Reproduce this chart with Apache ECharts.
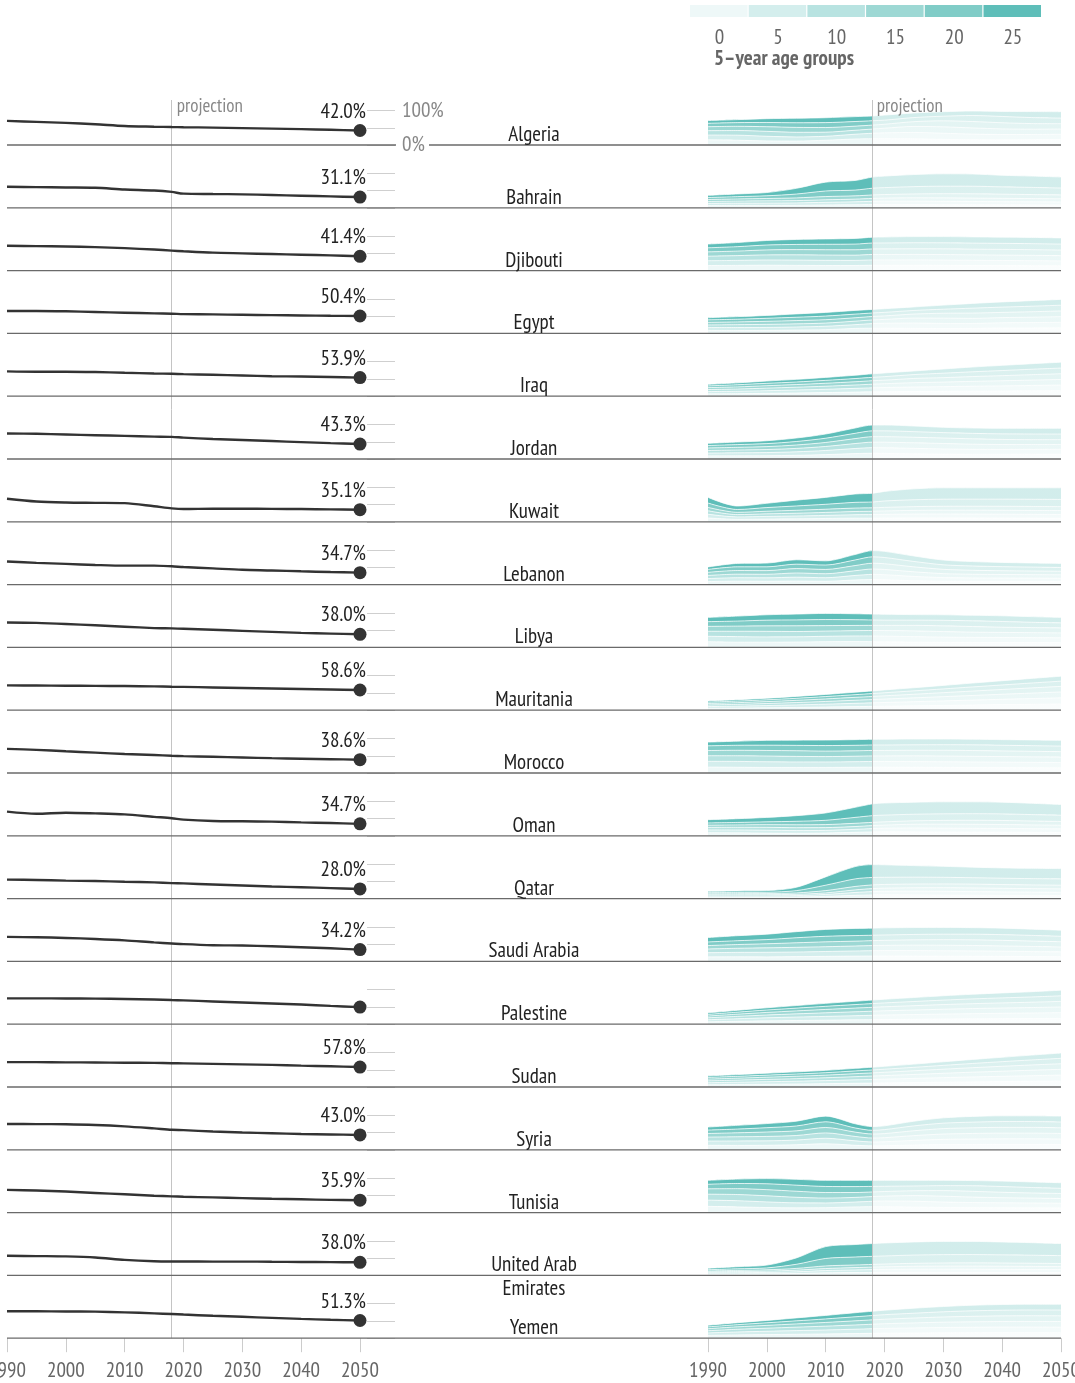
<!DOCTYPE html>
<html><head><meta charset="utf-8">
<script src="https://cdn.jsdelivr.net/npm/echarts@6/dist/echarts.min.js"></script>
<style>html,body{margin:0;padding:0;background:#fff}#c{width:1075px;height:1383px}</style>
</head><body><div id="c"></div>
<script>
// ---------- DATA ----------
const years = [1990,1995,2000,2005,2010,2015,2018,2020,2025,2030,2035,2040,2045,2050];
const countries = ['Algeria','Bahrain','Djibouti','Egypt','Iraq','Jordan','Kuwait','Lebanon','Libya','Mauritania','Morocco','Oman','Qatar','Saudi Arabia','Palestine','Sudan','Syria','Tunisia','United Arab\nEmirates','Yemen'];
const endLabels = ['42.0%','31.1%','41.4%','50.4%','53.9%','43.3%','35.1%','34.7%','38.0%','58.6%','38.6%','34.7%','28.0%','34.2%','','57.8%','43.0%','35.9%','38.0%','51.3%'];
const ageGroups = ['0','5','10','15','20','25'];
const projectionYear = 2018;

// share of population under 30 (%), per year in `years`
const shareAlgeria    = [70,67,64,60,55,53,52,51.5,50.5,49,47.5,46,44,42.0];
const shareBahrain    = [61,60,59,58,53,50,46,41,40,39,37,35,33,31.1];
const shareDjibouti   = [72,71,70,68,65,61,58,56,52,50,48,46,44,41.4];
const shareEgypt      = [65,65,64,62,60,58,57,56,55,54,53,52,51,50.4];
const shareIraq       = [72,71,71,70,68,66,65,64,62,60,58,57,55.5,53.9];
const shareJordan     = [74,73,71,69,67,65,64,62,58,55,52,49,46,43.3];
const shareKuwait     = [67,59,56,55,54,45,39,37,38,38,37.5,37,36,35.1];
const shareLebanon    = [67,63,60,57,55,55,53,51,47,43,41,38.5,36.5,34.7];
const shareLibya      = [72,71,68,64,60,56,55,54,51,48,45,42,40,38.0];
const shareMauritania = [72,71.5,71,70.5,70,69,68,67.5,66,64.5,63,61.5,60,58.6];
const shareMorocco    = [70,67,63,59,55,52,50,49,47,45,43,41.5,40,38.6];
const shareOman       = [70,64,67,65,62,55,51,47,43,42,41,39,37,34.7];
const shareQatar      = [55,54,52,51,49,47,45,44,41,38,35,33,30.5,28.0];
const shareSaudi      = [71,70,68,65,61,55,52,50,47,46,44,41,38,34.2];
const sharePalestine  = [75,75,74.5,74,73,71.5,70,69,66,63,60,57,53,49.5];
const shareSudan      = [72,72,71.5,71,70.5,70,69,68.5,67,65.5,64,62,60,57.8];
const shareSyria      = [75,74.5,74,72,68,62,58,57,53,50,48,46,44.5,43.0];
const shareTunisia    = [66,64,61,57,53,49,47,46,44,42,40,38.5,37,35.9];
const shareUAE        = [57,56,55,52,45,41,40.5,40.5,40,40,39.5,39,38.5,38.0];
const shareYemen      = [78,78,77.5,77,75,72,70,68.5,65,62,59,56,53.5,51.3];

// population by 5-year age group (thousands): one row per year, columns 0-4 ... 25-29
const agesAlgeria = [[3800,3500,3200,2900,2500,2000],[3500,3700,3400,3100,2700,2200],[3000,3400,3600,3400,3100,2800],[2900,3000,3400,3600,3400,3300],[3500,2900,3000,3400,3600,3600],[4400,3500,2900,3000,3400,3600],[4600,4000,3100,2900,3200,3500],[4600,4300,3400,2900,3000,3700],[4500,4700,4400,3500,3000,3400],[4100,4500,4700,4400,3400,3300],[3900,4100,4500,4700,4400,3300],[3800,3900,4100,4500,4600,3700],[3900,3800,3900,4100,4400,4400],[4000,3900,3800,3900,4100,4700]];
const agesBahrain = [[60,55,50,50,52,57],[62,58,54,56,60,70],[62,60,58,62,70,85],[65,62,60,70,100,148],[75,68,65,84,145,230],[80,76,70,84,150,250],[86,82,76,90,176,290],[86,86,80,92,180,300],[84,88,88,100,190,314],[82,86,90,108,195,322],[80,84,88,112,196,318],[78,82,86,108,190,301],[76,80,84,104,186,294],[74,78,82,100,180,286]];
const agesDjibouti = [[90,84,80,76,72,66],[92,88,84,80,78,73],[95,92,90,88,86,80],[92,93,93,92,91,88],[90,91,93,94,96,94],[90,90,92,95,100,100],[94,94,96,98,104,103],[94,94,96,99,104,105],[94,95,96,100,106,108],[92,94,97,101,106,109],[90,92,96,100,106,110],[88,90,95,101,106,110],[86,89,94,100,106,110],[84,87,92,99,105,109]];
const agesEgypt = [[7200,6800,6400,6100,6000,5200],[7000,7100,6900,6600,6500,6200],[7200,7100,7400,7300,7300,6900],[8100,7300,7500,7900,8000,8000],[9000,8200,7600,8100,8700,8800],[12000,9000,8400,8100,8800,8900],[12500,11000,8900,8300,8400,8500],[12500,11800,9300,8400,8500,8800],[12000,12800,12000,9600,8700,8500],[11800,12100,12700,11800,9700,9800],[12000,11900,12200,12700,11800,11400],[13000,12500,12400,12500,12700,12500],[13000,12900,13000,13100,13300,13400],[13300,13400,13500,13700,13800,13900]];
const agesIraq = [[2900,2700,2500,2300,2100,1900],[3100,2900,2700,2600,2600,2300],[3500,3200,3100,2900,2900,2800],[3900,3600,3400,3200,3100,3200],[4400,4000,3700,3600,3500,3600],[5000,4500,4100,3900,3900,4000],[5300,4900,4400,4200,4100,4300],[5400,5100,4600,4300,4300,4500],[5700,5400,5300,5100,4700,4400],[5900,5700,5500,5400,5400,5100],[6100,6000,5900,5800,5800,5800],[6300,6200,6200,6200,6200,6300],[6500,6500,6500,6600,6600,6700],[6700,6800,6800,6900,6900,7100]];
const agesJordan = [[620,560,520,500,500,440],[640,600,560,530,550,520],[660,630,610,580,600,580],[740,700,680,680,700,700],[880,830,800,800,850,840],[1080,1020,990,990,1060,1060],[1150,1120,1100,1100,1160,1170],[1120,1130,1110,1110,1160,1170],[1030,1100,1110,1110,1120,1130],[980,1030,1090,1100,1080,1060],[960,980,1020,1080,1090,1070],[960,960,980,1020,1110,1110],[970,960,960,980,1130,1140],[980,970,960,960,1120,1150]];
const agesKuwait = [[170,160,150,150,190,247],[110,105,100,100,124,150],[120,115,112,115,160,188],[130,125,120,128,190,252],[145,135,130,140,215,302],[160,150,140,150,250,365],[160,155,145,150,255,382],[165,160,150,155,280,418],[170,168,160,165,300,477],[170,170,168,170,310,497],[168,170,170,172,310,495],[165,168,170,175,312,495],[163,165,168,175,314,500],[160,163,166,174,316,506]];
const agesLebanon = [[280,280,290,290,270,230],[320,320,330,340,340,320],[310,320,330,340,350,350],[330,360,390,410,410,410],[310,330,370,400,410,390],[430,420,440,480,520,510],[470,480,500,540,590,580],[450,470,490,530,580,570],[360,400,430,460,500,510],[310,340,370,400,420,440],[300,320,340,370,400,410],[300,310,330,350,380,390],[300,305,320,340,365,380],[295,300,315,330,355,375]];
const agesLibya = [[680,640,600,580,560,500],[620,660,640,610,600,590],[620,630,660,650,680,640],[640,620,630,680,700,690],[680,640,620,650,720,730],[690,670,630,620,680,710],[680,680,650,610,640,700],[660,680,660,620,620,700],[620,660,680,660,620,660],[600,620,660,680,660,660],[590,600,620,670,680,660],[590,590,600,620,680,680],[580,585,590,600,630,675],[570,575,580,590,600,645]];
const agesMauritania = [[190,170,160,150,135,125],[215,190,180,170,155,140],[245,220,205,190,180,160],[280,250,235,220,205,190],[320,285,270,255,235,215],[360,330,305,290,270,245],[385,350,330,310,290,265],[400,370,345,325,305,285],[440,410,385,360,340,315],[480,450,425,400,375,350],[520,490,465,440,415,390],[560,530,505,480,450,425],[595,570,545,520,490,460],[630,610,585,560,520,495]];
const agesMorocco = [[3200,3100,3000,2800,2550,2020],[3100,3150,3050,2950,2700,2210],[3000,3050,3100,3000,2850,2600],[3000,2950,3000,3050,2900,2810],[3000,2950,2900,2950,3000,2970],[3100,3000,2950,2900,2980,3060],[3150,3050,3000,2950,2950,3050],[3100,3100,3000,2950,2950,3110],[3050,3100,3100,3000,2950,3120],[3000,3050,3100,3100,3000,3070],[2950,3000,3050,3100,3100,3010],[2900,2950,3000,3050,3050,3040],[2850,2900,2950,3000,3050,3070],[2800,2850,2900,2950,3000,3100]];
const agesOman = [[230,210,185,165,170,240],[220,215,200,175,185,280],[200,215,215,200,210,330],[190,200,215,215,260,420],[210,195,205,225,320,545],[260,220,210,240,440,750],[290,250,220,240,500,880],[295,270,230,245,500,900],[290,295,275,255,490,895],[280,290,295,280,490,895],[275,285,295,300,490,885],[270,280,290,300,490,870],[262,270,280,290,478,840],[255,262,270,280,463,800]];
const agesQatar = [[50,45,40,35,40,45],[48,46,42,38,42,50],[48,46,44,40,45,57],[55,50,46,48,80,116],[80,65,55,80,190,290],[115,100,90,120,265,430],[130,115,105,130,260,450],[135,120,110,130,250,438],[130,130,120,130,240,405],[125,130,128,130,232,385],[120,125,130,132,225,368],[115,120,125,132,222,361],[112,116,122,130,220,360],[110,113,118,128,220,361]];
const agesSaudi = [[2600,2400,2150,1950,2100,2550],[2650,2550,2350,2150,2200,2890],[2600,2650,2550,2350,2400,3110],[2750,2650,2700,2600,2900,3510],[2900,2800,2750,2800,3200,3940],[3050,2950,2850,2800,3200,4120],[3100,3050,2950,2850,3100,4090],[3100,3100,3000,2900,3100,4110],[3050,3150,3150,3050,3100,3990],[3000,3100,3200,3200,3150,3900],[2950,3050,3150,3250,3250,3780],[2900,2950,3050,3200,3300,3740],[2800,2850,2950,3100,3250,3610],[2700,2750,2850,3000,3150,3530]];
const agesPalestine = [[270,240,220,205,190,175],[330,295,270,250,230,215],[380,350,320,295,275,255],[420,395,365,340,315,295],[460,430,410,385,355,340],[500,470,445,425,400,380],[520,495,470,445,425,405],[535,510,485,460,440,420],[560,540,520,495,475,460],[590,570,550,530,510,500],[610,595,580,560,545,530],[630,615,600,585,575,565],[645,635,620,610,600,600],[665,655,645,640,635,640]];
const agesSudan = [[3600,3200,3000,2800,2600,2400],[4000,3600,3300,3100,2950,2750],[4400,4000,3700,3450,3250,3100],[4800,4400,4050,3800,3550,3400],[5300,4850,4500,4150,3900,3700],[5900,5450,5050,4700,4400,4100],[6200,5800,5400,5000,4700,4400],[6400,6050,5650,5250,4900,4550],[7000,6650,6250,5850,5450,5100],[7600,7250,6900,6500,6050,5700],[8100,7850,7550,7150,6700,6350],[8600,8350,8100,7800,7350,7000],[9100,8850,8650,8350,7950,7700],[9500,9350,9150,8900,8600,8400]];
const agesSyria = [[2000,1850,1750,1600,1500,1340],[1950,1950,1850,1750,1650,1650],[2000,1950,1950,1950,1900,1820],[2250,2050,2000,2050,2150,2100],[2650,2450,2350,2400,2500,2500],[2000,1950,1950,1900,1850,1830],[1750,1700,1750,1750,1650,1620],[1800,1750,1800,1800,1750,1680],[2100,2050,2100,2150,2150,2050],[2300,2300,2350,2400,2400,2340],[2350,2400,2450,2500,2500,2520],[2400,2450,2500,2550,2550,2540],[2400,2450,2500,2550,2550,2540],[2350,2400,2450,2500,2550,2600]];
const agesTunisia = [[1050,1050,1000,900,770,660],[960,1040,1040,990,870,740],[850,950,1030,1030,990,870],[800,840,940,1020,1020,980],[830,790,830,930,1020,1030],[960,820,780,820,1000,1050],[1000,900,800,780,930,1020],[990,960,820,780,880,1000],[920,990,950,820,800,950],[860,920,980,940,840,890],[830,860,920,970,940,870],[820,830,860,910,970,910],[800,815,830,860,920,935],[780,795,810,830,870,935]];
const agesUAE = [[220,190,160,150,190,245],[230,210,190,175,250,345],[250,230,210,210,300,450],[300,280,260,280,660,1020],[420,360,320,420,1200,1900],[460,420,370,420,1280,2000],[480,450,400,430,1300,2050],[490,470,420,440,1300,2080],[500,495,470,470,1325,2100],[495,500,495,500,1340,2120],[490,500,505,515,1330,2110],[480,490,500,515,1310,2065],[470,480,490,510,1290,2010],[460,470,480,500,1260,1940]];
const agesYemen = [[2400,2100,1850,1700,1600,1400],[2800,2500,2300,2050,1850,1680],[3050,2850,2600,2400,2200,2030],[3350,3100,2950,2750,2600,2510],[3600,3400,3250,3150,3000,2980],[3950,3700,3600,3500,3450,3480],[4150,3950,3800,3700,3700,3650],[4250,4100,3950,3850,3850,3800],[4400,4350,4250,4150,4100,4250],[4550,4550,4500,4450,4400,4500],[4650,4650,4650,4650,4700,4750],[4700,4750,4750,4800,4800,4850],[4700,4750,4800,4850,4900,4900],[4650,4750,4800,4850,4900,4950]];

const shares = [shareAlgeria,shareBahrain,shareDjibouti,shareEgypt,shareIraq,shareJordan,shareKuwait,shareLebanon,shareLibya,shareMauritania,shareMorocco,shareOman,shareQatar,shareSaudi,sharePalestine,shareSudan,shareSyria,shareTunisia,shareUAE,shareYemen];
const ages = [agesAlgeria,agesBahrain,agesDjibouti,agesEgypt,agesIraq,agesJordan,agesKuwait,agesLebanon,agesLibya,agesMauritania,agesMorocco,agesOman,agesQatar,agesSaudi,agesPalestine,agesSudan,agesSyria,agesTunisia,agesUAE,agesYemen];

// ---------- STYLE / LAYOUT ----------
const FONT = "'Liberation Sans Narrow','PT Sans Narrow','Roboto Condensed','DejaVu Sans Condensed',sans-serif";
const ageColors = ['#eef8f8','#d4eeed','#b8e3e1','#9dd8d4','#80ccc7','#5ebeb9'];
const PROJ_ALPHA = 0.28;
const ROW0 = 145, STEP = 62.8, LH = 34.5;
const L_LEFT = 7, R_LEFT = 708, PLOT_W = 353;

function rgba(hex, a){
  const n = parseInt(hex.slice(1),16);
  return 'rgba('+((n>>16)&255)+','+((n>>8)&255)+','+(n&255)+','+a+')';
}
const projFrac = (projectionYear - years[0])/(years[years.length-1]-years[0]);

const grid=[], xAxis=[], yAxis=[], series=[];
function addGrid(g, xa, ya){
  const i = grid.length;
  grid.push(Object.assign({outerBoundsMode:'none', containLabel:false}, g));
  xAxis.push(Object.assign({gridIndex:i}, xa));
  yAxis.push(Object.assign({gridIndex:i}, ya));
  return i;
}
const hiddenX = {type:'value', min:years[0], max:years[years.length-1], show:false};

countries.forEach((name, r) => {
  const b = ROW0 + r*STEP;
  // left line chart
  const gL = addGrid({left:L_LEFT, top:b-LH, width:PLOT_W, height:LH}, hiddenX, {type:'value', min:0, max:100, show:false});
  const sh = shares[r];
  series.push({type:'line', xAxisIndex:gL, yAxisIndex:gL, data:years.map((y,k)=>[y, sh[k]]),
    symbol:'none', smooth:0.3, lineStyle:{color:'#333', width:2.4}, z:5, silent:true});
  series.push({type:'scatter', xAxisIndex:gL, yAxisIndex:gL, data:[[years[years.length-1], sh[sh.length-1]]],
    symbolSize:13, itemStyle:{color:'#333', opacity:1}, z:6, silent:true,
    label:{show:endLabels[r]!=='', formatter:endLabels[r], position:'top', align:'right', offset:[6,3],
      fontSize:21, color:'#222', fontFamily:FONT}});
  // small reference ticks 0/50/100
  const gT = addGrid({left:367, top:b-LH, width:28, height:LH}, hiddenX,
    {type:'value', min:0, max:100, interval:50, axisLine:{show:false}, axisTick:{show:false}, axisLabel:{show:false},
     splitLine:{show:true, lineStyle:{color:'#cfcfcf', width:1}}});
  series.push({type:'line', xAxisIndex:gT, yAxisIndex:gT, data:[], silent:true});
  // right stacked area (value first so the stack runs on the value dimension)
  const rows = ages[r];
  const tot = rows.map(a => a.reduce((s,v)=>s+v,0));
  const mx = Math.max(...tot);
  const gR = addGrid({left:R_LEFT, top:b-35, width:PLOT_W, height:35}, hiddenX, {type:'value', min:0, max:mx*1.03, show:false});
  ageGroups.forEach((ag, k) => {
    const c = ageColors[k];
    series.push({type:'line', name:ag, xAxisIndex:gR, yAxisIndex:gR, stack:'s'+r, symbol:'none', smooth:0.3, silent:true,
      encode:{x:1, y:0},
      data:years.map((y,t)=>[rows[t][k], y]),
      lineStyle:{color:'rgba(255,255,255,0.9)', width:0.8},
      areaStyle:{opacity:1, color:new echarts.graphic.LinearGradient(0,0,1,0,[
        {offset:0,color:c},{offset:projFrac,color:c},{offset:projFrac,color:rgba(c,PROJ_ALPHA)},{offset:1,color:rgba(c,PROJ_ALPHA)}])},
      z:2});
  });
});

// overlay grids carrying the bottom year axes and projection lines
const lastBase = ROW0 + (countries.length-1)*STEP;
const axisStyle = {type:'value', min:years[0], max:years[years.length-1], interval:10,
  axisLine:{show:false}, axisTick:{show:true, length:14, lineStyle:{color:'#cccccc', width:1}},
  axisLabel:{fontSize:21, color:'#666', margin:22, fontFamily:FONT, formatter:v=>String(v), hideOverlap:false},
  splitLine:{show:false}};
const projLine = {silent:true, symbol:['none','none'], label:{show:false},
  lineStyle:{color:'#c4c4c4', type:'solid', width:1}, data:[{xAxis:projectionYear}]};
const gOL = addGrid({left:L_LEFT, top:100, width:PLOT_W, height:lastBase-100}, axisStyle, {type:'value', min:0, max:1, show:false});
series.push({type:'line', xAxisIndex:gOL, yAxisIndex:gOL, data:[], z:20, markLine:projLine});
const gOR = addGrid({left:R_LEFT, top:100, width:PLOT_W, height:lastBase-100}, axisStyle, {type:'value', min:0, max:1, show:false});
series.push({type:'line', xAxisIndex:gOR, yAxisIndex:gOR, data:[], z:20, markLine:projLine});

const chart = echarts.init(document.getElementById('c'), null, {renderer:'canvas'});
chart.setOption({animation:false, backgroundColor:'#fff', grid, xAxis, yAxis, series});

// ---------- decorations (positions derived from the axes) ----------
const pxL = chart.convertToPixel({xAxisIndex:gOL}, projectionYear);
const pxR = chart.convertToPixel({xAxisIndex:gOR}, projectionYear);
const pxLEnd = chart.convertToPixel({xAxisIndex:gOR}, years[years.length-1]);
const graphic = [];
countries.forEach((name, r) => {
  const b = ROW0 + r*STEP;
  if (r === 0) {
    graphic.push({type:'line', z:10, shape:{x1:L_LEFT, y1:b, x2:396, y2:b}, style:{stroke:'#6a6a6a', lineWidth:1.3}});
    graphic.push({type:'line', z:10, shape:{x1:429, y1:b, x2:pxLEnd, y2:b}, style:{stroke:'#6a6a6a', lineWidth:1.3}});
  } else {
    graphic.push({type:'line', z:10, shape:{x1:L_LEFT, y1:b, x2:pxLEnd, y2:b}, style:{stroke:'#6a6a6a', lineWidth:1.3}});
  }
  graphic.push({type:'text', z:10, x:534, y:b-22, style:{text:name, fill:'#222', font:'21px '+FONT, textAlign:'center', textVerticalAlign:'top', lineHeight:24}});
});
// scale labels of the first row
graphic.push({type:'text', z:10, x:402, y:ROW0-LH, style:{text:'100%', fill:'#888', font:'21px '+FONT, textAlign:'left', textVerticalAlign:'middle'}});
graphic.push({type:'text', z:10, x:402, y:ROW0, style:{text:'0%', fill:'#888', font:'21px '+FONT, textAlign:'left', textVerticalAlign:'middle'}});
// projection labels
graphic.push({type:'text', z:10, x:pxL+5, y:107, style:{text:'projection', fill:'#888', font:'19px '+FONT, textAlign:'left', textVerticalAlign:'middle'}});
graphic.push({type:'text', z:10, x:pxR+4, y:107, style:{text:'projection', fill:'#888', font:'19px '+FONT, textAlign:'left', textVerticalAlign:'middle'}});
// legend
const LG_X = 690, LG_W = 58.7;
ageGroups.forEach((ag, k) => {
  graphic.push({type:'rect', z:10, shape:{x:LG_X + k*LG_W, y:5, width:LG_W-1.2, height:12}, style:{fill:ageColors[k]}});
  graphic.push({type:'text', z:10, x:LG_X + k*LG_W + LG_W/2, y:38, style:{text:ag, fill:'#666', font:'21px '+FONT, textAlign:'center', textVerticalAlign:'middle'}});
});
graphic.push({type:'text', z:10, x:714, y:59, style:{text:'5\u2013year age groups', fill:'#666', font:'bold 21px '+FONT, textAlign:'left', textVerticalAlign:'middle'}});
chart.setOption({graphic});
</script></body></html>
